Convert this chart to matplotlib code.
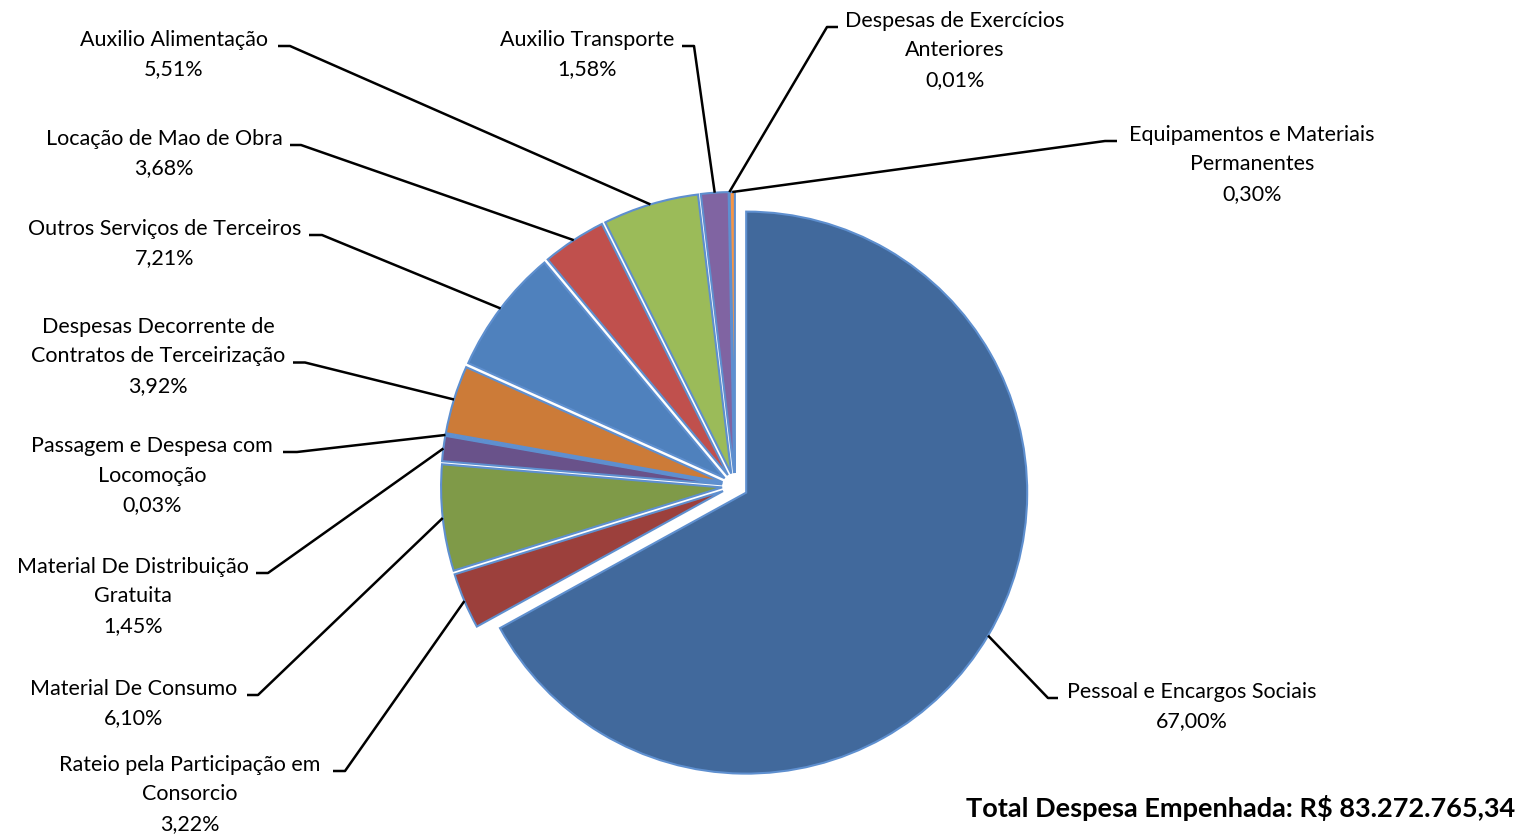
import numpy as np
import matplotlib
matplotlib.use("Agg")
import matplotlib.pyplot as plt

# data (clockwise from 12 o'clock)
categorias = [
    "Pessoal e Encargos Sociais",
    "Rateio pela Participação em\nConsorcio",
    "Material De Consumo",
    "Material De Distribuição\nGratuita",
    "Passagem e Despesa com\nLocomoção",
    "Despesas Decorrente de\nContratos de Terceirização",
    "Outros Serviços de Terceiros",
    "Locação de Mao de Obra",
    "Auxilio Alimentação",
    "Auxilio Transporte",
    "Despesas de Exercícios\nAnteriores",
    "Equipamentos e Materiais\nPermanentes",
]
percentuais = [67.00, 3.22, 6.10, 1.45, 0.03, 3.92, 7.21, 3.68, 5.51, 1.58, 0.01, 0.30]
cores = ["#41699C", "#9C403C", "#7F9A48", "#69528A", "#3A97B0", "#CC7B38",
         "#4F81BD", "#C0504D", "#9BBB59", "#8064A2", "#4BACC6", "#F79646"]
total_txt = "Total Despesa Empenhada: R$ 83.272.765,34"

# label layout in pixels (y from top): text centre x, first line y, text-end x, elbow x
label_pos = [
    (1192, 692, 1058, 1048),
    (190, 765, 333, 345),
    (134, 689, 247, 258),
    (133, 567, 256, 268),
    (152, 446, 283, 297),
    (158, 327, 293, 305),
    (165, 229, 309, 322),
    (164, 139, 290, 301),
    (174, 40, 278, 290),
    (587, 40, 682, 694),
    (955, 21, 838, 827),
    (1252, 135, 1117, 1105),
]
# which line of the label carries the leader
leader_line = [0, 0, 0, 0, 0, 1, 0, 0, 0, 0, 0, 0]

W, H = 1523, 836
plt.rcParams['font.family'] = ['Lato', 'DejaVu Sans']
fig = plt.figure(figsize=(W / 100, H / 100), dpi=100)
ax = fig.add_axes([0, 0, 1, 1])

wedges, _ = ax.pie(percentuais, colors=cores, startangle=90, counterclock=False,
                   radius=281, center=(735, H - 486), explode=[13] * len(percentuais),
                   wedgeprops=dict(edgecolor="#5E8FCF", linewidth=1.5))
ax.set_xlim(0, W)
ax.set_ylim(0, H)
ax.set_aspect("equal")
ax.axis("off")

line_h = 29.5
for w, nome, pct, (tx, ty, xend, xelb), ll in zip(wedges, categorias, percentuais, label_pos, leader_line):
    linhas = nome.split("\n") + [f"{pct:.2f}".replace(".", ",") + "%"]
    for i, s in enumerate(linhas):
        ax.text(tx, H - (ty + i * line_h), s, ha="center", va="center", fontsize=15.5, color="black")
    # anchor on the slice's outer arc at its bisector
    th = np.deg2rad((w.theta1 + w.theta2) / 2)
    ax_x = w.center[0] + w.r * np.cos(th)
    ax_y = w.center[1] + w.r * np.sin(th)
    yl = H - (ty + ll * line_h + 6)
    ax.plot([xend, xelb, ax_x], [yl, yl, ax_y], color="black", lw=1.8, solid_capstyle="butt")

ax.text(1515, H - 808, total_txt, ha="right", va="center", fontsize=19.5, fontweight="bold")

fig.savefig("out.png", dpi=100)
